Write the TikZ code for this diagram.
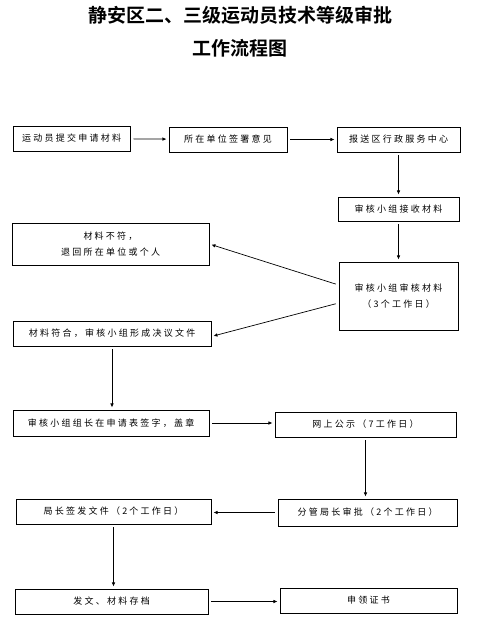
\documentclass[tikz,border=0pt]{standalone}
\usepackage{fontspec}
\newfontfamily\boxfont[LetterSpace=25]{Noto Sans CJK SC}
\newfontfamily\titlefont{Noto Sans CJK SC Bold}
\usetikzlibrary{arrows.meta}

\begin{document}
\begin{tikzpicture}[x=1pt, y=-1pt, -latex, arrows={-Triangle[angle=45:4pt]},
	line width=0.7pt, shorten <=3pt, shorten >=2.5pt,
	box/.style={draw, inner sep=0pt, font=\boxfont\fontsize{9}{16.5}\selectfont, align=center}]
	\useasboundingbox (0,0) rectangle (481,637);

	\node [font=\titlefont\fontsize{19}{33}\selectfont, align=center] (title) at (240,31.5)
		{静安区二、三级运动员技术等级审批\\工作流程图};

	\node [box, minimum width=117, minimum height=25] (apply) at (71.5,138.5) {运动员提交申请材料};
	\node [box, minimum width=118, minimum height=25] (unit) at (228,139.5) {所在单位签署意见};
	\node [box, minimum width=123, minimum height=25] (center) at (398.5,139.5) {报送区行政服务中心};

	\node [box, minimum width=121, minimum height=24] (receive) at (398.5,209) {审核小组接收材料};
	\node [box, minimum width=197, minimum height=42] (reject) at (110.5,244) {材料不符，\\退回所在单位或个人};
	\node [box, minimum width=119, minimum height=68] (review) at (398.5,296) {审核小组审核材料\\（3个工作日）};
	\node [box, minimum width=198, minimum height=25] (accept) at (112,333.5) {材料符合，审核小组形成决议文件};

	\node [box, minimum width=196, minimum height=26] (sign) at (111,423) {审核小组组长在申请表签字，盖章};
	\node [box, minimum width=181, minimum height=25] (publish) at (365.5,424.5) {网上公示（7工作日）};

	\node [box, minimum width=195, minimum height=25] (chief) at (113.5,511.5) {局长签发文件（2个工作日）};
	\node [box, minimum width=179, minimum height=27] (deputy) at (367.5,512.5) {分管局长审批（2个工作日）};

	\node [box, minimum width=193, minimum height=25] (archive) at (111.5,601.5) {发文、材料存档};
	\node [box, minimum width=177, minimum height=25] (cert) at (368.5,600.5) {申领证书};

	\draw (apply) to (unit);
	\draw (unit) to (center);
	\draw (center) to (receive);
	\draw (receive) to (review);
	\draw ([yshift=11pt]review.west) to (reject.east);
	\draw ([yshift=-7pt]review.west) to ([yshift=-3pt]accept.east);
	\draw (accept.south) to (accept.south |- sign.north);
	\draw (sign.east) to (sign.east -| publish.west);
	\draw (publish.south) to (publish.south |- deputy.north);
	\draw (deputy.west) to (deputy.west -| chief.east);
	\draw (chief.south) to (chief.south |- archive.north);
	\draw (archive.east) to (archive.east -| cert.west);

\end{tikzpicture}
\end{document}
